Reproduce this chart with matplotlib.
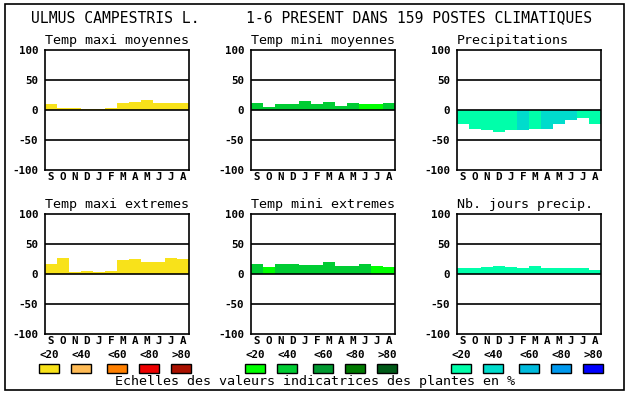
import matplotlib
matplotlib.use("Agg")
import matplotlib.pyplot as plt
from matplotlib.patches import Rectangle

plt.rcParams["font.family"] = "DejaVu Sans Mono"

months = ["S", "O", "N", "D", "J", "F", "M", "A", "M", "J", "J", "A"]
classes = ["<20", "<40", "<60", "<80", ">80"]

# colour scales (one per family of panels)
warm = ["#f8e21a", "#ffbb55", "#ff8000", "#ee0000", "#aa1100"]
green = ["#00ff00", "#00cc33", "#009930", "#007a00", "#005a18"]
water = ["#00ffaa", "#00dccc", "#00bbdd", "#0099ee", "#0000ff"]

titles = ["Temp maxi moyennes", "Temp mini moyennes", "Precipitations",
          "Temp maxi extremes", "Temp mini extremes", "Nb. jours precip."]

tmax_moy = [10, 4, 4, 2, 2, 4, 12, 14, 16, 12, 12, 12]
tmax_moy_cls = [0, 0, 0, 0, 0, 0, 0, 0, 0, 0, 0, 0]
tmin_moy = [12, 5, 10, 10, 15, 10, 14, 7, 12, 10, 10, 12]
tmin_moy_cls = [1, 1, 1, 1, 1, 1, 1, 1, 1, 0, 0, 1]
precip = [-23, -31, -34, -36, -34, -34, -31, -31, -23, -16, -14, -23]
precip_cls = [0, 0, 0, 0, 0, 1, 0, 1, 1, 1, 0, 0]
tmax_ext = [17, 27, 4, 5.5, 4, 5.5, 24, 25.5, 20.5, 20.5, 27, 25.5]
tmax_ext_cls = [0, 0, 0, 0, 0, 0, 0, 0, 0, 0, 0, 0]
tmin_ext = [17, 12, 17, 17, 15.5, 15.5, 20.5, 14, 14, 17, 14, 12]
tmin_ext_cls = [1, 0, 1, 1, 1, 1, 1, 1, 1, 1, 0, 0]
jours = [10.5, 10.5, 12, 14, 12, 10.5, 14, 10.5, 10.5, 10.5, 10.5, 7]
jours_cls = [0, 0, 0, 0, 0, 0, 0, 0, 0, 0, 0, 0]

panels = [
    (tmax_moy, tmax_moy_cls, warm),
    (tmin_moy, tmin_moy_cls, green),
    (precip, precip_cls, water),
    (tmax_ext, tmax_ext_cls, warm),
    (tmin_ext, tmin_ext_cls, green),
    (jours, jours_cls, water),
]

W, H = 630, 394
fig = plt.figure(figsize=(W / 100, H / 100), dpi=100)
fig.patch.set_facecolor("white")

# overlay in pixel coordinates for frame, titles and legend
bg = fig.add_axes([0, 0, 1, 1], zorder=0)
bg.set_xlim(0, W)
bg.set_ylim(H, 0)
bg.axis("off")
bg.add_patch(Rectangle((5, 4), 619, 386, fill=False, edgecolor="black", lw=1.2))
bg.text(31, 18, "ULMUS CAMPESTRIS L.", fontsize=10.6, va="center", ha="left")
bg.text(246, 18, "1-6 PRESENT DANS 159 POSTES CLIMATIQUES", fontsize=10.6,
        va="center", ha="left")

ax_left = [45, 251, 457]
ax_top = [50, 214]
pw, ph = 144, 120

for i, (vals, cls, pal) in enumerate(panels):
    col, row = i % 3, i // 3
    x0, y0 = ax_left[col], ax_top[row]
    ax = fig.add_axes([x0 / W, 1 - (y0 + ph) / H, pw / W, ph / H], zorder=1)
    ax.bar(range(12), vals, width=1.0, color=[pal[c] for c in cls],
           edgecolor="none", zorder=1)
    for y in (50, 0, -50):
        ax.axhline(y, color="black", lw=1.2, zorder=2)
    ax.set_xlim(-0.5, 11.5)
    ax.set_ylim(-100, 100)
    ax.set_yticks([100, 50, 0, -50, -100])
    ax.set_yticklabels(["100", "50", "0", "-50", "-100"], fontweight="bold",
                       fontsize=7.8)
    ax.set_xticks(range(12))
    ax.set_xticklabels(months, fontweight="bold", fontsize=7.8)
    ax.tick_params(axis="y", length=0, pad=5)
    ax.tick_params(axis="x", length=0, pad=1.5)
    for s in ax.spines.values():
        s.set_linewidth(1.2)
    ax.set_title(titles[i], fontsize=9.6, pad=4, loc="left")

# legend boxes
offsets = [0, 32, 68, 100, 132]
for g, pal in enumerate([warm, green, water]):
    gx = ax_left[g] - 6
    for k, off in enumerate(offsets):
        bg.add_patch(Rectangle((gx + off, 364), 20, 9, facecolor=pal[k],
                               edgecolor="black", lw=1))
        bg.text(gx + off + 10, 354.5, classes[k], fontsize=7.8,
                fontweight="bold", ha="center", va="center")

bg.text(315, 382, "Echelles des valeurs indicatrices des plantes en %",
        fontsize=9.6, ha="center", va="center")

fig.savefig("out.png", dpi=100, facecolor="white")
